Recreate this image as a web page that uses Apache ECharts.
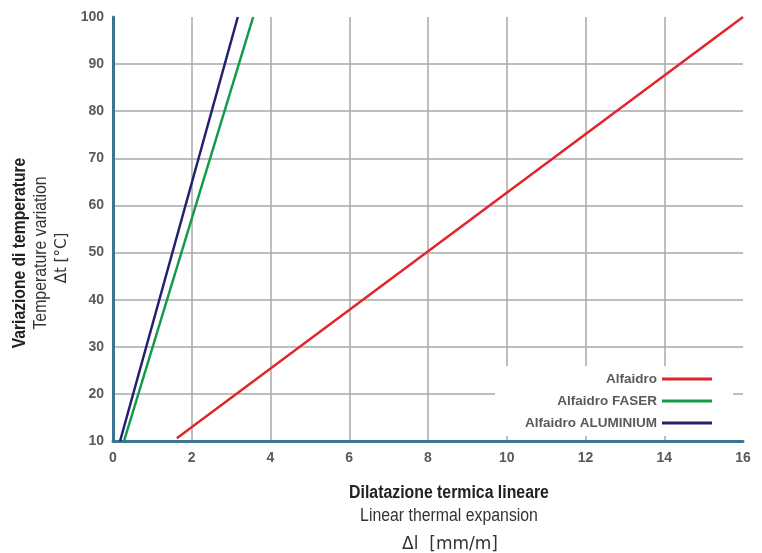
<!DOCTYPE html>
<html><head><meta charset="utf-8">
<script src="https://cdn.jsdelivr.net/npm/echarts@6/dist/echarts.min.js"></script>
<style>html,body{margin:0;padding:0;background:#fff}#c{width:762px;height:553px}</style>
</head><body><div id="c"></div>
<script>
var seriesNames = ['Alfaidro', 'Alfaidro FASER', 'Alfaidro ALUMINIUM'];
var alfaidro = [[1.62, 10.6], [16.0, 100]];
var faser = [[0.28, 10], [3.56, 100]];
var aluminium = [[0.18, 10], [3.17, 100]];
var colors = ['#e0262a', '#119a48', '#24206f'];

var FF = '"Liberation Sans"';
var chart = echarts.init(document.getElementById('c'));
var lbl = {color: '#5a5a5a', fontWeight: 'bold', fontSize: 14, fontFamily: 'Liberation Sans'};
chart.setOption({
  animation: false,
  grid: {left: 113, right: 19, top: 17, bottom: 112},
  legend: {
    orient: 'vertical', right: 29, top: 366, align: 'right',
    backgroundColor: '#fff', padding: [6, 21, 6, 30], itemGap: 8,
    icon: 'rect', itemWidth: 50, itemHeight: 3,
    textStyle: {color: '#5a5a5a', fontWeight: 'bold', fontSize: 13.5, fontFamily: 'Liberation Sans'},
    data: seriesNames
  },
  xAxis: {
    type: 'value', min: 0, max: 16, interval: 2,
    axisLine: {show: true, onZero: false, lineStyle: {color: '#3b7592', width: 3}},
    axisTick: {show: false},
    axisLabel: Object.assign({margin: 10}, lbl),
    splitLine: {show: true, showMinLine: false, showMaxLine: false, lineStyle: {color: '#a8a8a8', width: 1.5}}
  },
  yAxis: {
    type: 'value', min: 10, max: 100, interval: 10,
    axisLine: {show: true, onZero: false, lineStyle: {color: '#3b7592', width: 3}},
    axisTick: {show: false},
    axisLabel: Object.assign({margin: 9}, lbl),
    splitLine: {show: true, showMinLine: false, showMaxLine: false, lineStyle: {color: '#a8a8a8', width: 1.5}}
  },
  series: [
    {name: seriesNames[0], type: 'line', data: alfaidro, showSymbol: false, lineStyle: {width: 2.5, color: colors[0]}, itemStyle: {color: colors[0]}},
    {name: seriesNames[1], type: 'line', data: faser, showSymbol: false, lineStyle: {width: 2.5, color: colors[1]}, itemStyle: {color: colors[1]}},
    {name: seriesNames[2], type: 'line', data: aluminium, showSymbol: false, lineStyle: {width: 2.5, color: colors[2]}, itemStyle: {color: colors[2]}}
  ],
  graphic: [
    {type: 'text', x: 20, y: 253, rotation: Math.PI / 2, scaleX: 0.87, style: {text: 'Variazione di temperature', fill: '#222', font: 'bold 18px ' + FF, align: 'center', verticalAlign: 'middle'}},
    {type: 'text', x: 41, y: 253, rotation: Math.PI / 2, scaleX: 0.88, style: {text: 'Temperature variation', fill: '#333', font: '18px ' + FF, align: 'center', verticalAlign: 'middle'}},
    {type: 'text', x: 62, y: 258, rotation: Math.PI / 2, style: {text: 'Δt [°C]', fill: '#333', font: '15px "DejaVu Sans"', align: 'center', verticalAlign: 'middle'}},
    {type: 'text', x: 449, y: 493, scaleX: 0.88, style: {text: 'Dilatazione termica lineare', fill: '#222', font: 'bold 18px ' + FF, align: 'center', verticalAlign: 'middle'}},
    {type: 'text', x: 449, y: 516, scaleX: 0.88, style: {text: 'Linear thermal expansion', fill: '#333', font: '18px ' + FF, align: 'center', verticalAlign: 'middle'}},
    {type: 'text', x: 450, y: 545, style: {text: 'Δl  [mm/m]', fill: '#333', font: '17px "DejaVu Sans"', align: 'center', verticalAlign: 'middle'}}
  ]
});
</script></body></html>
